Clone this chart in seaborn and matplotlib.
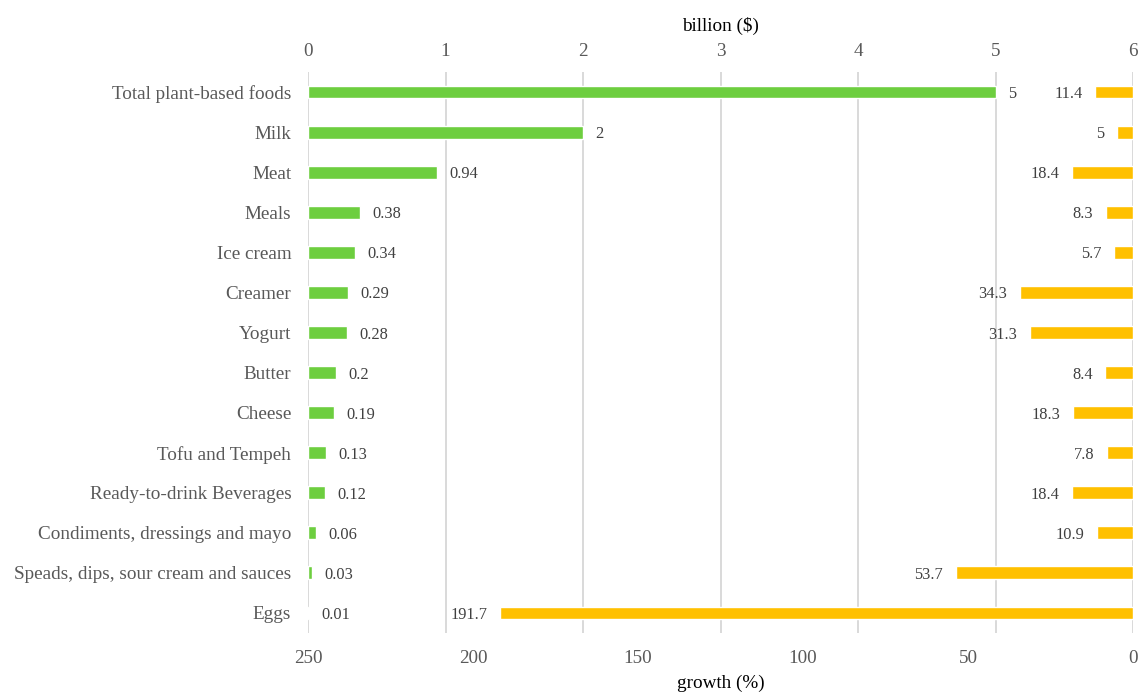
import matplotlib
matplotlib.use("Agg")
import matplotlib.pyplot as plt
import seaborn as sns
import pandas as pd

categories = [
    "Total plant-based foods", "Milk", "Meat", "Meals", "Ice cream", "Creamer",
    "Yogurt", "Butter", "Cheese", "Tofu and Tempeh", "Ready-to-drink Beverages",
    "Condiments, dressings and mayo", "Speads, dips, sour cream and sauces", "Eggs",
]
sales_billion = [5, 2, 0.94, 0.38, 0.34, 0.29, 0.28, 0.2, 0.19, 0.13, 0.12, 0.06, 0.03, 0.01]
growth_pct = [11.4, 5, 18.4, 8.3, 5.7, 34.3, 31.3, 8.4, 18.3, 7.8, 18.4, 10.9, 53.7, 191.7]
billion_ticks = [0, 1, 2, 3, 4, 5, 6]
growth_ticks = [250, 200, 150, 100, 50, 0]

df = pd.DataFrame({"category": categories, "sales": sales_billion, "growth": growth_pct})

sns.set_theme(style="white")
plt.rcParams["font.family"] = ["Liberation Serif", "DejaVu Serif"]

GREEN = "#6DCE3F"
ORANGE = "#FFC000"
TICK_COLOR = "#595959"
LABEL_COLOR = "#404040"
FS = 13.8
VFS = 11.8

fig = plt.figure(figsize=(11.41, 6.93), dpi=100)
ax = fig.add_axes([308 / 1141, 1 - 633 / 693, (1133 - 308) / 1141, (633 - 72) / 693])
ax2 = ax.twiny()

# sales (billion $) on the top axis
sns.barplot(data=df, x="sales", y="category", orient="h", color=GREEN,
            width=0.32, saturation=1, ax=ax)
ax.set_xlim(0, 6)
ax.set_xticks(billion_ticks)
ax.xaxis.tick_top()
ax.xaxis.set_label_position("top")
ax.set_xlabel("billion ($)", fontsize=FS, color="black", labelpad=8)
ax.set_ylabel("")
ax.grid(axis="x", color="#D9D9D9", linewidth=1.4)
ax.set_axisbelow(True)
ax.tick_params(axis="x", length=0, labelsize=FS, labelcolor=TICK_COLOR, pad=9,
               labeltop=True, labelbottom=False)
ax.tick_params(axis="y", length=0, labelsize=FS, labelcolor=TICK_COLOR, pad=12)
for s in ax.spines.values():
    s.set_visible(False)

for i, v in enumerate(sales_billion):
    ax.annotate(f"{v:g}", xy=(v, i), xytext=(9, -1.5), textcoords="offset points",
                ha="left", va="center", fontsize=VFS, color=LABEL_COLOR)

# growth (%) on a reversed bottom axis
sns.barplot(data=df, x="growth", y="category", orient="h", color=ORANGE,
            width=0.32, saturation=1, ax=ax2)
ax2.set_xlim(250, 0)
ax2.set_xticks(growth_ticks)
ax2.xaxis.tick_bottom()
ax2.xaxis.set_label_position("bottom")
ax2.set_xlabel("growth (%)", fontsize=FS, color="black", labelpad=6)
ax2.set_ylabel("")
ax2.tick_params(axis="x", length=0, labelsize=FS, labelcolor=TICK_COLOR, pad=12,
                labelbottom=True, labeltop=False)
ax2.tick_params(axis="y", length=0, labelleft=False, left=False)
for s in ax2.spines.values():
    s.set_visible(False)

for i, v in enumerate(growth_pct):
    ax2.annotate(f"{v:g}", xy=(v, i), xytext=(-9, -1.5), textcoords="offset points",
                 ha="right", va="center", fontsize=VFS, color=LABEL_COLOR)

ax.set_ylim(len(categories) - 0.5, -0.5)

fig.savefig("out.png", dpi=100)
